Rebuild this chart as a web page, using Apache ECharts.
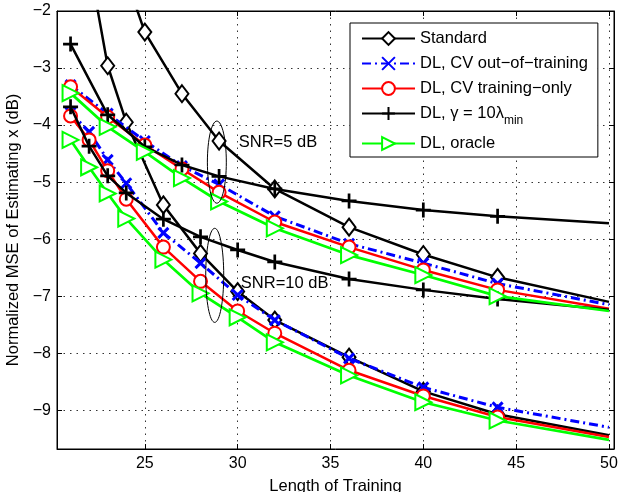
<!DOCTYPE html>
<html>
<head>
<meta charset="utf-8">
<script src="https://cdn.jsdelivr.net/npm/echarts@6/dist/echarts.min.js"></script>
<style>
  html, body { margin: 0; padding: 0; background: #fff; }
  #chart { width: 618px; height: 492px; }
</style>
</head>
<body>
<div id="chart"></div>
<script>
// x grids (length of training)
const x5 = [21, 23, 25, 27, 29, 32, 36, 40, 44, 50];
const x10 = [21, 22, 23, 24, 26, 28, 30, 32, 36, 40, 44, 50];
const xStd5 = [23, 25, 27, 29, 32, 36, 40, 44, 50];
const xStd10 = [22, 23, 24, 26, 28, 30, 32, 36, 40, 44, 50];

// SNR = 5 dB
const std5 = [-0.5, -2.37, -3.45, -4.28, -5.12, -5.79, -6.27, -6.67, -7.1];
const cvOut5 = [-3.30, -3.80, -4.28, -4.72, -5.04, -5.60, -6.08, -6.42, -6.78, -7.15];
const cvTrain5 = [-3.33, -3.86, -4.35, -4.77, -5.18, -5.70, -6.14, -6.54, -6.89, -7.22];
const gamma5 = [-2.58, -3.82, -4.38, -4.70, -4.90, -5.12, -5.33, -5.49, -5.60, -5.72];
const oracle5 = [-3.44, -4.03, -4.47, -4.93, -5.34, -5.81, -6.28, -6.63, -7.00, -7.26];

// SNR = 10 dB
const std10 = [-1.15, -2.96, -3.95, -5.40, -6.25, -6.92, -7.42, -8.07, -8.67, -9.07, -9.44];
const cvOut10 = [-3.78, -4.12, -4.61, -5.02, -5.89, -6.42, -6.98, -7.42, -8.09, -8.60, -8.95, -9.30];
const cvTrain10 = [-3.84, -4.26, -4.80, -5.30, -6.14, -6.74, -7.26, -7.65, -8.30, -8.75, -9.12, -9.47];
const gamma10 = [-3.68, -4.37, -4.89, -5.19, -5.65, -5.96, -6.19, -6.40, -6.70, -6.89, -7.05, -7.24];
const oracle10 = [-4.26, -4.74, -5.20, -5.64, -6.36, -6.95, -7.37, -7.81, -8.39, -8.86, -9.18, -9.52];

const names = ['Standard', 'DL, CV out−of−training', 'DL, CV training−only', 'DL, γ = 10λmin', 'DL, oracle'];

// annotations, in data units
const ellipse5 = { x: [28.37, 29.39], y: [-3.93, -5.37] };
const ellipse10 = { x: [28.28, 29.25], y: [-5.81, -7.46] };
const label5 = { text: 'SNR=5 dB', at: [30.06, -4.30] };
const label10 = { text: 'SNR=10 dB', at: [30.17, -6.77] };

const FONT = '"Liberation Sans", Arial, Helvetica, sans-serif';

const toPairs = (xs, ys) => xs.map((x, i) => {
  const d = { value: [x, ys[i]] };
  if (x >= 50) d.symbol = 'none'; // line runs off to the edge, no marker there
  return d;
});

const styles = [
  { color: '#000', symbol: 'emptyDiamond', symbolSize: [13, 17], width: 2.5, type: 'solid', bw: 2.2 },
  { color: '#0000ff', symbol: 'path://M0,0L10,10M10,0L0,10', symbolSize: 10, width: 3, type: [9, 4, 2, 4], bw: 3 },
  { color: '#ff0000', symbol: 'emptyCircle', symbolSize: 13, width: 2.5, type: 'solid', bw: 2.7 },
  { color: '#000', symbol: 'path://M5,0L5,10M0,5L10,5', symbolSize: 15, width: 2.5, type: 'solid', bw: 2.7 },
  { color: '#00ff00', symbol: 'emptyTriangle', symbolSize: 16, width: 2.7, type: 'solid', bw: 2.5, rotate: -90 },
];

const groups = [
  [[xStd5, std5], [xStd10, std10]],
  [[x5, cvOut5], [x10, cvOut10]],
  [[x5, cvTrain5], [x10, cvTrain10]],
  [[x5, gamma5], [x10, gamma10]],
  [[x5, oracle5], [x10, oracle10]],
];

const series = [];
groups.forEach((g, k) => {
  const s = styles[k];
  g.forEach(([xs, ys]) => {
    series.push({
      name: names[k],
      type: 'line',
      data: toPairs(xs, ys),
      symbol: s.symbol,
      symbolSize: s.symbolSize,
      symbolRotate: s.rotate || 0,
      showAllSymbol: true,
      lineStyle: { color: s.color, width: s.width, type: s.type },
      itemStyle: { color: s.color, borderColor: s.color, borderWidth: s.bw },
      emphasis: { disabled: true },
      z: 2 + k,
    });
  });
});

const fmtNum = (v) => String(v).replace('-', '−');

const chart = echarts.init(document.getElementById('chart'));
chart.setOption({
  animation: false,
  textStyle: { fontFamily: FONT },
  grid: {
    left: 57, right: 4, top: 11, bottom: 43,
    outerBoundsMode: 'none', containLabel: false,
    show: true, borderColor: '#000', borderWidth: 1,
  },
  legend: {
    orient: 'vertical',
    left: 350,
    top: 23,
    backgroundColor: '#fff',
    borderColor: '#000',
    borderWidth: 1,
    padding: [7, 10, 5, 11],
    itemGap: 8,
    itemWidth: 53,
    itemHeight: 16,
    data: names,
    formatter: (n) => n === names[3] ? '{base|DL, γ = 10λ}{sub|min}' : n,
    textStyle: {
      fontFamily: FONT, fontSize: 16.5, color: '#000',
      rich: {
        base: { fontFamily: FONT, fontSize: 16.5, color: '#000' },
        sub: { fontFamily: FONT, fontSize: 12, color: '#000', padding: [15, 0, 0, 0] },
      },
    },
    z: 20,
  },
  xAxis: [
    {
      type: 'value', min: 20.27, max: 50.27, splitNumber: 6,
      name: 'Length of Training', nameLocation: 'middle', nameGap: 29,
      nameTextStyle: { fontFamily: FONT, fontSize: 16.5, color: '#000' },
      axisLine: { lineStyle: { color: '#000', width: 1 } },
      axisTick: { inside: true, length: 5, lineStyle: { color: '#000' } },
      axisLabel: {
        margin: 7, fontFamily: FONT, fontSize: 16, color: '#000',
        formatter: (v) => (Math.abs(v / 5 - Math.round(v / 5)) < 1e-6 ? fmtNum(v) : ''),
      },
      splitLine: { show: true, lineStyle: { color: '#333', width: 1, type: [1.5, 5] } },
    },
    {
      type: 'value', position: 'top', min: 20.27, max: 50.27, splitNumber: 6,
      axisLine: { lineStyle: { color: '#000' } },
      axisTick: { inside: true, length: 5, lineStyle: { color: '#000' } },
      axisLabel: { show: false },
      splitLine: { show: false },
    },
  ],
  yAxis: [
    {
      type: 'value', min: -9.68, max: -2, splitNumber: 8,
      name: 'Normalized MSE of Estimating x (dB)', nameLocation: 'middle', nameGap: 33,
      nameTextStyle: { fontFamily: FONT, fontSize: 16.5, color: '#000' },
      axisLine: { show: true, lineStyle: { color: '#000', width: 1 } },
      axisTick: { show: true, inside: true, length: 5, lineStyle: { color: '#000' } },
      axisLabel: {
        margin: 6, fontFamily: FONT, fontSize: 16, color: '#000',
        formatter: (v) => (Math.abs(v - Math.round(v)) < 1e-6 ? fmtNum(v) : ''),
      },
      splitLine: { show: true, lineStyle: { color: '#333', width: 1, type: [1.5, 5] } },
    },
    {
      type: 'value', position: 'right', min: -9.68, max: -2, splitNumber: 8,
      axisLine: { show: true, lineStyle: { color: '#000' } },
      axisTick: { show: true, inside: true, length: 5, lineStyle: { color: '#000' } },
      axisLabel: { show: false },
      splitLine: { show: false },
    },
  ],
  series: series,
});

// annotations placed through the chart's own coordinate conversion
const px = (p) => chart.convertToPixel({ xAxisIndex: 0, yAxisIndex: 0 }, p);
const ellipseEl = (e) => {
  const a = px([e.x[0], e.y[0]]);
  const b = px([e.x[1], e.y[1]]);
  return {
    type: 'ellipse',
    shape: { cx: (a[0] + b[0]) / 2, cy: (a[1] + b[1]) / 2, rx: Math.abs(b[0] - a[0]) / 2, ry: Math.abs(b[1] - a[1]) / 2 },
    style: { fill: null, stroke: '#000', lineWidth: 1 },
    z: 10,
  };
};
const textEl = (l) => {
  const p = px(l.at);
  return {
    type: 'text', x: p[0], y: p[1], z: 10,
    style: { text: l.text, font: '16.5px ' + FONT, fill: '#000', verticalAlign: 'middle', textVerticalAlign: 'middle' },
  };
};
chart.setOption({
  graphic: [ellipseEl(ellipse5), ellipseEl(ellipse10), textEl(label5), textEl(label10)],
});
</script>
</body>
</html>
